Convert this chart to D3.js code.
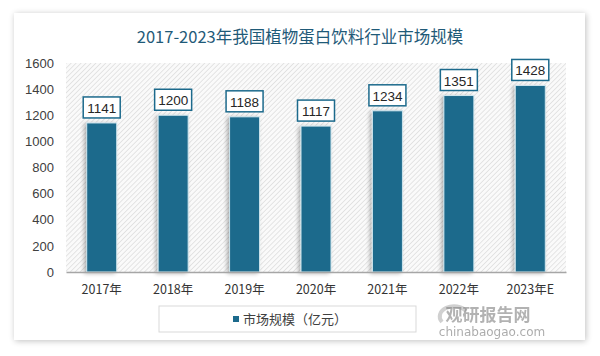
<!DOCTYPE html>
<html><head><meta charset="utf-8">
<script src="https://cdn.jsdelivr.net/npm/d3@7"></script>
<style>
html,body{margin:0;padding:0;background:#fff;}
svg{display:block;}
</style></head>
<body>
<svg id="c" width="600" height="356"></svg>
<script>
const categories = ["2017年","2018年","2019年","2020年","2021年","2022年","2023年E"];
const values = [1141,1200,1188,1117,1234,1351,1428];
const yTicks = [0,200,400,600,800,1000,1200,1400,1600];
const title = "2017-2023年我国植物蛋白饮料行业市场规模";
const legendLabel = "市场规模（亿元）";

(function(){
const svg = d3.select("#c");
const defs = svg.append("defs");
const sh = defs.append("filter").attr("id","card").attr("x","-5%").attr("y","-5%").attr("width","110%").attr("height","110%");
sh.append("feGaussianBlur").attr("in","SourceAlpha").attr("stdDeviation",3).attr("result","b");
sh.append("feOffset").attr("in","b").attr("dx",1).attr("dy",1).attr("result","o");
sh.append("feComponentTransfer").attr("in","o").attr("result","o2").append("feFuncA").attr("type","linear").attr("slope",0.25);
const m1 = sh.append("feMerge"); m1.append("feMergeNode").attr("in","o2"); m1.append("feMergeNode").attr("in","SourceGraphic");

const bs = defs.append("filter").attr("id","bar").attr("x","-30%").attr("y","-10%").attr("width","160%").attr("height","120%");
bs.append("feGaussianBlur").attr("in","SourceAlpha").attr("stdDeviation",2).attr("result","b");
bs.append("feOffset").attr("in","b").attr("dx",-2).attr("dy",1).attr("result","o");
bs.append("feComponentTransfer").attr("in","o").attr("result","o2").append("feFuncA").attr("type","linear").attr("slope",0.3);
const m2 = bs.append("feMerge"); m2.append("feMergeNode").attr("in","o2"); m2.append("feMergeNode").attr("in","SourceGraphic");

const pat = defs.append("pattern").attr("id","hatch").attr("patternUnits","userSpaceOnUse").attr("width",3.5).attr("height",3.5).attr("patternTransform","rotate(45)");
pat.append("rect").attr("width",3.5).attr("height",3.5).attr("fill","#fafafa");
pat.append("line").attr("x1",0).attr("y1",0).attr("x2",0).attr("y2",3.5).attr("stroke","#d6d6d6").attr("stroke-width",1.2);

svg.append("rect").attr("x",14).attr("y",13).attr("width",571).attr("height",327).attr("fill","#fff").attr("filter","url(#card)");

svg.append("text").attr("x",300).attr("y",43).attr("text-anchor","middle")
  .attr("font-family","'Noto Sans CJK SC', sans-serif").attr("font-size",16.5)
  .attr("fill","#1f5a78").text(title);

const pLeft=66, pRight=566, pTop=63, pBottom=272;
const x = d3.scaleBand().domain(categories).range([pLeft,pRight]).paddingInner(0.58).paddingOuter(0.29);
const y = d3.scaleLinear().domain([0,1600]).range([pBottom,pTop]);

svg.append("rect").attr("x",pLeft).attr("y",pTop).attr("width",pRight-pLeft).attr("height",pBottom-pTop).attr("fill","url(#hatch)");

const yAxis = d3.axisLeft(y).tickValues(yTicks).tickFormat(d3.format("d")).tickSize(0).tickPadding(12);
const gy = svg.append("g").attr("transform",`translate(${pLeft},0)`).call(yAxis);
gy.select(".domain").remove();
gy.selectAll("text").attr("font-family","'Liberation Sans', Arial, sans-serif").attr("font-size",13).attr("fill","#404040");

svg.selectAll(".bar").data(values).join("rect").attr("class","bar")
  .attr("x",(d,i)=>x(categories[i])).attr("y",d=>y(d))
  .attr("width",x.bandwidth()).attr("height",d=>pBottom-y(d))
  .attr("fill","#1c6a8c").attr("stroke","#cfe6ee").attr("stroke-width",1)
  .attr("filter","url(#bar)");

const xAxis = d3.axisBottom(x).tickSize(0).tickPadding(13);
const gx = svg.append("g").attr("transform",`translate(0,${pBottom})`).call(xAxis);
gx.select(".domain").attr("stroke","#a6a6a6").attr("stroke-width",1.5);
gx.selectAll("text").attr("font-family","'Noto Sans CJK SC', sans-serif").attr("font-size",12.5).attr("fill","#333");

const lg = svg.selectAll(".lbl").data(values).join("g").attr("class","lbl")
  .attr("transform",(d,i)=>`translate(${x(categories[i])+x.bandwidth()/2},${y(d)-15})`);
lg.append("rect").attr("x",-18.5).attr("y",-11).attr("width",37).attr("height",21)
  .attr("fill","#fff").attr("stroke","#1c6a8c").attr("stroke-width",1.5);
lg.append("text").attr("text-anchor","middle").attr("y",5)
  .attr("font-family","'Liberation Sans', Arial, sans-serif").attr("font-size",13.5).attr("fill","#262626").text(d=>d);

svg.append("rect").attr("x",159).attr("y",306).attr("width",257).attr("height",26).attr("fill","#fff").attr("stroke","#d9d9d9").attr("stroke-width",1);
svg.append("rect").attr("x",233).attr("y",316).attr("width",6).attr("height",6).attr("fill","#1c6a8c");
svg.append("text").attr("x",243).attr("y",324).attr("font-family","'Noto Sans CJK SC', sans-serif").attr("font-size",13).attr("fill","#404040").text(legendLabel);

// watermark
svg.append("path").attr("d","M 442 322 A 14 10 0 1 1 466 311").attr("fill","none").attr("stroke","#b0b0b0").attr("stroke-width",4).attr("opacity",0.6);
svg.append("text").attr("x",488).attr("y",321).attr("text-anchor","middle").attr("font-family","'Noto Sans CJK SC', sans-serif").attr("font-weight","bold").attr("font-size",17).attr("fill","#7f7f7f").attr("opacity",0.6).text("观研报告网");
svg.append("text").attr("x",492).attr("y",336).attr("text-anchor","middle").attr("font-family","'DejaVu Sans', sans-serif").attr("font-size",12).attr("fill","#8a8a8a").attr("opacity",0.7).text("chinabaogao.com");
})();
</script>
</body></html>
